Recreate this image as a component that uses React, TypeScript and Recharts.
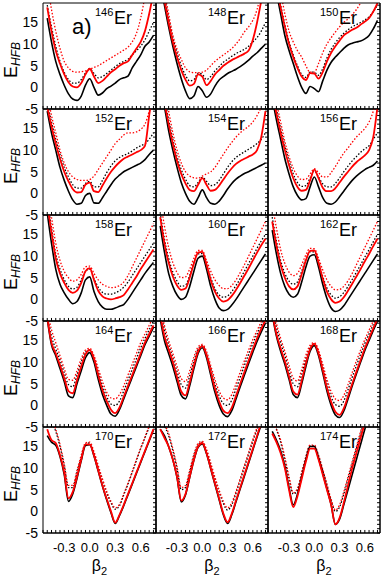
import React from 'react';
import { LineChart, Line, XAxis, YAxis, ReferenceLine } from 'recharts';

// beta_2 grid
const beta = [-0.5, -0.45, -0.4, -0.35, -0.3, -0.25, -0.2, -0.15, -0.1, -0.05, 0, 0.05, 0.1, 0.15, 0.2, 0.25, 0.3, 0.35, 0.4, 0.45, 0.5, 0.55, 0.6, 0.65, 0.7, 0.75];

// bs = black solid, bd = black dotted, rs = red solid, rd = red dotted
const bs146 = [16, 10.5, 6, 3, 0.5, -1.5, -2.7, -3, -2, 0.5, 2, 0, -1.8, -1.3, -0.3, 0.3, 1, 1.8, 2.2, 2.6, 4.5, 6, 7.5, 9.5, 10.5, 12];
const rs146 = [18.5, 13, 8.5, 5.5, 3, 1.2, 0.2, 0, 1, 3, 4.3, 2.5, 1, 1.5, 2.5, 3.5, 4.2, 5, 5.6, 6, 7.5, 9, 10.5, 13, 17, 22];
const bd146 = [19, 14, 9.5, 6, 3.5, 1.8, 1, 1, 1.8, 3.3, 4.3, 3.2, 2.2, 2.5, 3.2, 4, 4.8, 5.5, 6, 6.5, 7.5, 8.5, 9.5, 11, 13, 15];
const rd146 = [24, 18, 13, 9, 6, 4.5, 3.7, 3.5, 3.6, 3.8, 4.2, 4.6, 5, 5.6, 6.2, 6.8, 7.4, 8, 8.6, 9.3, 10.5, 12.5, 16, 21, 26, 30];

const bs148 = [24, 19, 14, 9.5, 5.5, 2, -0.8, -2.6, -2, 0.2, -0.8, -2.3, -1.5, 0.3, 1.7, 2.5, 3.2, 3.7, 4.2, 4.8, 5.5, 6.3, 7.2, 8, 9, 10];
const rs148 = [25, 20, 15, 10.5, 7, 4, 1.8, 0.4, 0.8, 3, 2.5, 0.5, 1.5, 3, 4, 5, 5.7, 6.3, 6.8, 7.3, 7.8, 8.5, 11, 15, 20, 25];
const bd148 = [26, 21, 16, 11.5, 8, 5, 2.8, 1.5, 1.8, 3.3, 3, 1.8, 2.5, 3.8, 4.8, 5.8, 6.5, 7.2, 7.8, 8.3, 8.8, 9.5, 10.5, 11.5, 13, 15];
const rd148 = [27, 22, 17, 12, 8.8, 6.5, 4.5, 3.6, 3.4, 3.4, 3.5, 4, 5, 6, 6.8, 7.5, 8.2, 9, 10, 11.3, 12.8, 14, 15.5, 18, 22, 26];

const bs150 = [27, 22, 17, 12, 8.5, 5.5, 2.5, 0, -1.4, 0.2, -0.3, -1.0, 1.5, 4, 5.8, 7, 8, 9, 9.8, 10.2, 10.5, 10.7, 11.2, 12, 13.5, 15.5];
const rs150 = [28, 23, 18.5, 14, 10, 7, 4.5, 2.5, 1.7, 3.3, 3.2, 2, 3.5, 6, 8, 9.5, 10.8, 12, 12.7, 13.3, 13.8, 14.5, 15.2, 16, 17.5, 19.5];
const bd150 = [28.5, 23.5, 19, 14.5, 10.5, 7.5, 5, 3, 2.3, 3.5, 3.5, 2.8, 4.3, 6.8, 8.8, 10.3, 11.5, 12.5, 13.3, 14, 14.5, 15, 15.6, 16.3, 17.5, 19];
const rd150 = [30, 26, 22, 17, 13, 10.5, 8.5, 7, 5, 3.5, 3.5, 5.5, 8, 10, 11.5, 12.8, 14, 15, 15.8, 16.8, 18, 19.5, 21, 23, 25, 27];

const bs152 = [19, 14, 10, 6, 3, 0.5, -1.5, -2.5, -2.3, -0.5, 0, -2.2, -2.3, -1, 0.5, 2, 3.3, 4.2, 5, 5.5, 6, 6.5, 7, 7.8, 9, 10];
const rs152 = [20, 15.5, 11.5, 8, 5, 2.8, 1, 0.2, 0.3, 2, 2.5, 0.5, 0.3, 1.8, 3.5, 5, 6.2, 7.2, 8, 8.5, 9, 9.5, 10, 11, 18, 25];
const bd152 = [21, 16.5, 12.5, 9, 6, 3.8, 2, 1.2, 1.2, 2.3, 2.8, 1.5, 1.5, 3, 4.8, 6.3, 7.5, 8.3, 8.8, 9.2, 9.8, 10.5, 11, 11.5, 12.5, 14];
const rd152 = [23, 18, 14, 10, 7, 5, 3.8, 3.2, 3, 3, 3.2, 4, 5.5, 7, 8.5, 10, 11.5, 12.5, 13.5, 14, 14, 14.2, 14.8, 16, 19, 23];

const bs154 = [24, 20, 14.5, 10, 6, 2.5, 0, -1.8, -2.5, -1, 0.8, -1, -2.3, -2.5, -1.8, -0.5, 1, 2.3, 3.3, 4, 4.6, 5, 5.5, 6, 6.5, 7];
const rs154 = [25, 21, 16, 11.5, 7.5, 4.5, 2.3, 0.8, 0.5, 2, 3.5, 2, 0.6, 0.8, 1.8, 3.2, 4.6, 5.8, 6.8, 7.5, 8, 8.5, 9, 10, 13, 19];
const bd154 = [26, 22, 17, 12.5, 8.5, 5.5, 3.3, 1.8, 1.5, 2.5, 3.7, 2.8, 1.8, 2, 3, 4.5, 6, 7.3, 8.3, 9, 9.6, 10.2, 10.8, 11.5, 12.5, 14];
const rd154 = [28, 24, 19, 14, 10, 7, 5, 4, 3.6, 3.5, 4, 4.5, 5, 6, 7.5, 9, 10.5, 11.8, 13, 14, 14.8, 15.5, 16.5, 18, 20, 23];

const bs156 = [22, 17, 12.5, 8, 4.5, 1.5, -0.5, -1.5, -1.2, 1.5, 3.8, 1.5, -1, -2.3, -2.5, -2, -0.8, 0.5, 1.8, 3, 4, 4.8, 5.5, 6, 6.5, 7.5];
const rs156 = [23, 18.5, 14, 10, 6.5, 3.5, 1.5, 0.6, 0.8, 3, 5.5, 3.5, 1.3, 0.5, 0.5, 1.2, 2.5, 3.8, 5, 6.2, 7.2, 8, 8.8, 10, 13, 20];
const bd156 = [24, 19.5, 15, 11, 7.5, 4.5, 2.5, 1.6, 1.8, 3.5, 5.2, 3.8, 2.2, 1.5, 1.5, 2.3, 3.6, 5, 6.3, 7.5, 8.5, 9.5, 10.3, 11, 12.5, 14];
const rd156 = [26, 21, 16.5, 12, 8.5, 5.8, 4, 3.2, 3.3, 4.5, 5.7, 4.8, 3.8, 3.8, 4.8, 6.2, 7.8, 9.3, 10.5, 11.8, 13, 14, 15, 16.5, 19, 23];

const bs158 = [20, 13, 7, 3.5, 1.5, 0, -1, -0.5, 1.5, 4.5, 5.2, 1.8, -0.5, -1.8, -2.3, -2.3, -2, -1.6, -1.2, 0, 1.5, 3, 4.5, 6, 7.3, 8.5];
const rs158 = [22, 15.5, 9.5, 6, 3.8, 2.2, 1.5, 2, 3.8, 6.5, 7.2, 4.5, 2, 0.7, 0.2, 0, 0.2, 0.5, 1, 2.3, 3.8, 5.3, 7, 8.5, 10, 11.5];
const bd158 = [23, 16.5, 10.5, 7, 4.6, 3, 2.4, 2.8, 4.5, 6.5, 7, 4.8, 2.8, 1.6, 1.2, 1.2, 1.5, 2, 2.8, 4, 5.5, 7, 8.5, 10, 11.5, 13];
const rd158 = [25, 19, 13, 9, 6.5, 5, 4.2, 4.5, 5.8, 7.5, 7.7, 6, 4.5, 3.5, 3, 2.7, 2.8, 3.2, 4, 5.5, 7.5, 9.5, 11.5, 13.5, 15.5, 17.5];

const bs160 = [17, 11, 6, 3, 1, 0, 0.5, 3, 6.5, 9.5, 10, 7, 3, 0, -2, -2.6, -2.3, -1.3, 0, 1.5, 3, 4.5, 6, 7.5, 9, 10.5];
const rs160 = [19, 13, 8.5, 5.3, 3.2, 2.2, 2.5, 5, 8.3, 10.8, 11, 8, 4.5, 1.8, 0.2, -0.5, -0.2, 0.8, 2.2, 3.8, 5.5, 7.2, 9, 10.8, 12.5, 14];
const bd160 = [20, 14, 9.5, 6.3, 4.2, 3, 3.3, 5.5, 8.5, 10.5, 10.6, 8, 5, 2.5, 1, 0.5, 0.8, 1.8, 3.2, 4.8, 6.5, 8.3, 10, 11.8, 13.5, 15];
const rd160 = [23, 17, 12, 8.5, 6.2, 5, 5.2, 7, 9.5, 11.3, 11.3, 9, 6.5, 4.5, 3.2, 2.5, 2.5, 3.2, 4.5, 6.2, 8, 10, 12, 14, 16, 18];

const bs162 = [16, 10.5, 6, 3, 1.2, 0.5, 1.2, 4, 7.5, 10, 10.3, 7.5, 3.5, 0.2, -2, -2.8, -2.5, -1.5, 0, 1.5, 3, 4.5, 6, 7.5, 9, 10.5];
const rs162 = [18, 12.5, 8, 5, 3, 2.3, 3, 5.8, 9, 11.2, 11.3, 8.5, 4.8, 1.8, 0, -0.8, -0.5, 0.5, 2, 3.6, 5.3, 7, 8.8, 10.5, 12.3, 14];
const bd162 = [19, 13.5, 9, 6, 4.2, 3.5, 4, 6.5, 9.3, 11, 11, 8.5, 5.3, 2.6, 1, 0.3, 0.6, 1.6, 3, 4.6, 6.3, 8, 9.8, 11.5, 13.3, 15];
const rd162 = [22, 16.5, 11.5, 8.3, 6.3, 5.5, 6, 8, 10.3, 11.8, 11.7, 9.5, 6.8, 4.5, 3, 2.2, 2.3, 3, 4.3, 6, 8, 10, 12, 14, 16, 18];

const bs164 = [20, 14, 11.5, 8.5, 5.5, 2.2, 1.8, 5, 8, 11, 12.2, 10, 6, 2.5, 0, -2, -2.5, -1, 1.5, 4, 6.5, 9, 11.5, 14, 16, 18];
const rs164 = [20.5, 14.5, 12, 9.3, 6.3, 3.3, 2.8, 5.8, 9, 11.8, 12.8, 10.8, 7, 3.5, 1, -1, -1.8, -0.5, 2, 4.5, 7, 9.5, 12, 14.5, 16.5, 18.5];
const bd164 = [21, 16, 13, 10.5, 7.5, 4.8, 4.3, 7, 10, 12.3, 12.8, 11, 7.8, 4.5, 2, 0.3, 0, 1, 3.3, 5.8, 8.3, 10.8, 13.3, 15.5, 17.5, 19.5];
const rd164 = [22, 17.5, 14.5, 11.5, 8.5, 6, 5.8, 8, 10.8, 12.8, 13.2, 11.5, 8.5, 5.5, 3, 1.7, 1.5, 2.5, 4.5, 7, 9.5, 12, 14.5, 16.5, 18.5, 20.5];

const bs166 = [20, 15, 12, 9, 5.5, 2.3, 1.5, 4.5, 8.5, 12, 13.3, 11, 7, 3, 0, -2, -2.6, -1.2, 1.5, 4.3, 7, 9.7, 12.3, 14.8, 17, 19];
const rs166 = [21, 16, 13, 10, 6.5, 3.2, 2.3, 5.3, 9.2, 12.5, 13.7, 11.6, 7.8, 3.9, 0.9, -1.2, -1.8, -0.5, 2.2, 5, 7.7, 10.4, 13, 15.5, 17.7, 19.7];
const bd166 = [22, 17.5, 14, 11, 7.8, 4.8, 4, 6.8, 10.3, 13, 13.8, 12, 8.5, 5, 2.2, 0.4, 0, 1.2, 3.8, 6.5, 9.2, 11.8, 14.3, 16.5, 18.5, 20.5];
const rd166 = [23, 18.5, 15, 12, 9, 6.2, 5.5, 8, 11.2, 13.5, 14.1, 12.5, 9.2, 6, 3.3, 1.7, 1.3, 2.5, 5, 7.7, 10.3, 12.8, 15.2, 17.3, 19.3, 21];

const bs168 = [21, 16, 12.5, 9.5, 6, 2.5, 1.8, 5, 9, 12.5, 13.8, 11.5, 7.5, 3.3, 0, -2.2, -2.8, -1.3, 1.5, 4.5, 7.3, 10, 12.7, 15, 17.3, 19.5];
const rs168 = [21.5, 16.5, 13.2, 10.2, 6.7, 3.2, 2.5, 5.7, 9.7, 13, 14.2, 12, 8.2, 4, 0.8, -1.5, -2.2, -0.7, 2.1, 5, 7.8, 10.5, 13.2, 15.5, 17.8, 20];
const bd168 = [23, 18, 14.5, 11.5, 8, 5, 4.3, 7.2, 10.8, 13.5, 14.2, 12.3, 8.8, 5, 2, 0.2, -0.2, 1, 3.6, 6.5, 9.2, 11.8, 14.3, 16.5, 18.7, 20.7];
const rd168 = [24, 19, 15.5, 12.5, 9.2, 6.3, 5.6, 8.3, 11.6, 13.9, 14.5, 12.8, 9.5, 6, 3.2, 1.5, 1.1, 2.3, 4.8, 7.6, 10.3, 12.8, 15.2, 17.4, 19.5, 21.5];

const bs170 = [17.5, 16, 15.3, 12.7, 8.5, 2.3, 4, 7.6, 11.7, 15.2, 15.4, 12.8, 9.3, 5.8, 2.6, -0.3, -2.8, -1, 1.3, 3.8, 6.3, 8.8, 11.3, 13.8, 16.3, 18.8];
const rs170 = [19, 16.5, 15.8, 13, 9, 3, 4.5, 8, 12, 15.5, 15.5, 13, 9.5, 6, 2.9, 0, -2.6, -0.8, 1.5, 4, 6.5, 9, 11.5, 14, 16.5, 19];
const bd170 = [24, 21, 18.5, 15, 10.5, 5.5, 5.5, 9, 12.5, 15.5, 15.8, 13.5, 10.3, 7.2, 4.3, 2, 0.5, 1.3, 3.8, 6.3, 9, 11.8, 14.5, 17, 19.5, 22];
const rd170 = [24.5, 21.5, 19, 15.5, 11, 6, 6, 9.5, 13, 15.8, 16, 13.8, 10.6, 7.5, 4.6, 2.3, 0.8, 1.6, 4, 6.5, 9.2, 12, 14.7, 17.2, 19.7, 22];

const bs172 = [19, 17.5, 15, 12, 7.8, 2.2, 3.8, 7.8, 11.8, 14.8, 15.6, 13.3, 9.8, 6.2, 2.7, -0.8, -2.8, -0.8, 2.2, 5.2, 8.2, 11.2, 14.2, 17.2, 20, 22.5];
const rs172 = [19, 17, 15, 12, 8, 2.5, 4, 8, 12, 15, 15.8, 13.5, 10, 6.5, 3, -0.5, -2.5, -0.5, 2.5, 5.5, 8.5, 11.5, 14.5, 17.5, 20.5, 23];
const bd172 = [24, 20, 17.5, 14, 9.8, 5, 5.5, 9, 12.8, 15.3, 16, 14, 10.8, 7.5, 4.5, 1.8, 0.3, 1.5, 4.2, 7.2, 10.2, 13.2, 16.2, 19, 21.7, 24];
const rd172 = [24.5, 20.5, 18, 14.5, 10.3, 5.5, 6, 9.5, 13.2, 15.7, 16.2, 14.3, 11.2, 7.9, 4.9, 2.3, 0.8, 2, 4.6, 7.6, 10.6, 13.6, 16.6, 19.4, 22, 24.5];

const bs174 = [18.5, 16.5, 14, 10.5, 5.5, 1.5, 4, 8, 12, 15, 15, 12.3, 8.8, 5.2, 1.5, -3, -1.8, 1.5, 5, 8.5, 12, 15.5, 19, 22, 25, 28];
const rs174 = [18, 16, 13.5, 10, 5, 1, 3.5, 7.5, 11.5, 14.5, 14.5, 12, 8.5, 5, 1.5, -3, -1.5, 2, 6, 10, 13.5, 17, 20.5, 24, 27, 30];
const bd174 = [22, 19, 16, 12, 7.5, 4, 5, 8.8, 12.5, 15.2, 15.2, 12.8, 9.5, 6, 2.5, 0, 1, 4, 7.5, 11, 14.5, 18, 21.5, 25, 28, 31];
const rd174 = [21, 19, 16.5, 12.5, 8, 4.3, 5.3, 9, 12.7, 15.3, 15.3, 13, 9.8, 6.3, 2.8, 0.3, 1.5, 4.5, 8, 11.5, 15, 18.5, 22, 25, 28, 31];

const massNumbers = [146, 148, 150, 152, 154, 156, 158, 160, 162, 164, 166, 168, 170, 172, 174];
const blackSolid = [bs146, bs148, bs150, bs152, bs154, bs156, bs158, bs160, bs162, bs164, bs166, bs168, bs170, bs172, bs174];
const blackDotted = [bd146, bd148, bd150, bd152, bd154, bd156, bd158, bd160, bd162, bd164, bd166, bd168, bd170, bd172, bd174];
const redSolid = [rs146, rs148, rs150, rs152, rs154, rs156, rs158, rs160, rs162, rs164, rs166, rs168, rs170, rs172, rs174];
const redDotted = [rd146, rd148, rd150, rd152, rd154, rd156, rd158, rd160, rd162, rd164, rd166, rd168, rd170, rd172, rd174];

const xTickLabels = [-0.3, 0, 0.3, 0.6];
const yTickLabels = [-5, 0, 5, 10, 15];

const X_MIN = -0.55;
const X_MAX = 0.78;
const Y_MIN = -5;
const Y_MAX = 19.5;
const X_DOMAIN: [number, number] = [X_MIN, X_MAX];
const Y_DOMAIN: [number, number] = [Y_MIN, Y_MAX];
const xMinor = Array.from({ length: 27 }, (_, i) => Math.round((-0.55 + i * 0.05) * 100) / 100);
const yMinor = Array.from({ length: 25 }, (_, i) => -5 + i);
const X_TICK_LEN = 0.7; // in y units (~3px)
const Y_TICK_LEN = 0.035; // in x units (~3px)

const FONT = '"Liberation Sans", Arial, Helvetica, sans-serif';
const LEFTS = [43, 156, 268];
const WIDTHS = [113, 112, 112];
const TOPS = [3, 109, 215, 321, 427];
const PH = 106;

function Panel({ idx }: { idx: number }) {
  const col = idx % 3;
  const row = Math.floor(idx / 3);
  const firstCol = col === 0;
  const lastRow = row === 4;
  const leftExtra = firstCol ? 43 : 1;
  const bottomExtra = lastRow ? 45 : 1;
  const w = leftExtra + WIDTHS[col] + 1;
  const h = 1 + PH + bottomExtra;
  const data = beta.map((b, i) => ({
    beta: b,
    bs: blackSolid[idx][i],
    bd: blackDotted[idx][i],
    rs: redSolid[idx][i],
    rd: redDotted[idx][i],
  }));
  const ax = { stroke: '#000', allowDataOverflow: true, interval: 0 as const };
  const ref = { xAxisId: 'b', yAxisId: 'l', stroke: '#000', strokeWidth: 1, ifOverflow: 'visible' as const };
  return (
    <div style={{ position: 'absolute', left: LEFTS[col] - leftExtra, top: TOPS[row] - 1 }}>
      <LineChart
        width={w}
        height={h}
        data={data}
        margin={{ top: 1, right: 1, bottom: lastRow ? 0 : 1, left: firstCol ? 0 : 1 }}
      >
        <XAxis xAxisId="b" dataKey="beta" type="number" domain={X_DOMAIN} ticks={xMinor} tick={false} tickSize={3} mirror orientation="bottom" {...ax} />
        <XAxis xAxisId="t" dataKey="beta" type="number" domain={X_DOMAIN} ticks={xMinor} tick={false} tickSize={3} mirror orientation="top" {...ax} />
        {lastRow && (
          <XAxis
            xAxisId="lab"
            dataKey="beta"
            type="number"
            domain={X_DOMAIN}
            ticks={xTickLabels}
            tickFormatter={(v: number) => v.toFixed(1)}
            tick={{ fill: '#000', fontSize: 13, fontFamily: FONT }}
            tickSize={0}
            tickMargin={10}
            axisLine={false}
            tickLine={false}
            height={45}
            orientation="bottom"
            {...ax}
          />
        )}
        <YAxis yAxisId="l" type="number" domain={Y_DOMAIN} ticks={yMinor} tick={false} tickSize={3} mirror orientation="left" {...ax} />
        <YAxis yAxisId="r" type="number" domain={Y_DOMAIN} ticks={yMinor} tick={false} tickSize={3} mirror orientation="right" {...ax} />
        {firstCol && (
          <YAxis
            yAxisId="lab"
            type="number"
            domain={Y_DOMAIN}
            ticks={yTickLabels}
            tick={{ fill: '#000', fontSize: 14, fontFamily: FONT }}
            tickSize={0}
            tickMargin={5}
            axisLine={false}
            tickLine={false}
            width={43}
            orientation="left"
            {...ax}
          />
        )}
        <ReferenceLine {...ref} y={Y_MIN} />
        <ReferenceLine {...ref} x={X_MAX} />
        {xMinor.map((t) => (
          <ReferenceLine key={`bx${t}`} {...ref} segment={[{ x: t, y: Y_MIN }, { x: t, y: Y_MIN + X_TICK_LEN }]} />
        ))}
        {yMinor.map((t) => (
          <ReferenceLine key={`ry${t}`} {...ref} segment={[{ x: X_MAX, y: t }, { x: X_MAX - Y_TICK_LEN, y: t }]} />
        ))}
        <Line xAxisId="b" yAxisId="l" dataKey="bd" type="monotone" stroke="#000" strokeWidth={1.3} strokeDasharray="1.5 1.8" dot={false} isAnimationActive={false} />
        <Line xAxisId="b" yAxisId="l" dataKey="rd" type="monotone" stroke="#ff0000" strokeWidth={1.3} strokeDasharray="1.5 1.8" dot={false} isAnimationActive={false} />
        <Line xAxisId="b" yAxisId="l" dataKey="bs" type="monotone" stroke="#000" strokeWidth={1.6} dot={false} isAnimationActive={false} />
        <Line xAxisId="b" yAxisId="l" dataKey="rs" type="monotone" stroke="#ff0000" strokeWidth={1.8} dot={false} isAnimationActive={false} />
      </LineChart>
    </div>
  );
}

export default function App() {
  return (
    <div style={{ position: 'absolute', left: 0, top: 0, width: 382, height: 577, background: '#fff', fontFamily: FONT, overflow: 'hidden' }}>
      <style>{'.recharts-surface{overflow:visible}.recharts-wrapper{overflow:visible}'}</style>
      {massNumbers.map((_, i) => (
        <Panel key={i} idx={i} />
      ))}
      <svg width={382} height={577} style={{ position: 'absolute', left: 0, top: 0, pointerEvents: 'none' }} fontFamily={FONT}>
        <text x={72} y={34} fontSize={22} fill="#000">a)</text>
        {massNumbers.map((a, i) => {
          const col = i % 3;
          const row = Math.floor(i / 3);
          const x = LEFTS[col] + 52;
          const y = TOPS[row];
          return (
            <g key={a}>
              <text x={x} y={y + 13} fontSize={11} fill="#000">{a}</text>
              <text x={x + 19} y={y + 21} fontSize={18} fill="#000">Er</text>
            </g>
          );
        })}
        {TOPS.map((t) => (
          <text key={t} transform={`translate(17, ${t + 57}) rotate(-90)`} textAnchor="middle" fill="#000">
            <tspan fontSize={18}>E</tspan>
            <tspan fontSize={12} fontStyle="italic" dy={3}>HFB</tspan>
          </text>
        ))}
        {LEFTS.map((l, c) => (
          <text key={l} x={l + WIDTHS[c] / 2} y={571} textAnchor="middle" fill="#000">
            <tspan fontSize={16}>β</tspan>
            <tspan fontSize={11} dy={4}>2</tspan>
          </text>
        ))}
      </svg>
    </div>
  );
}
